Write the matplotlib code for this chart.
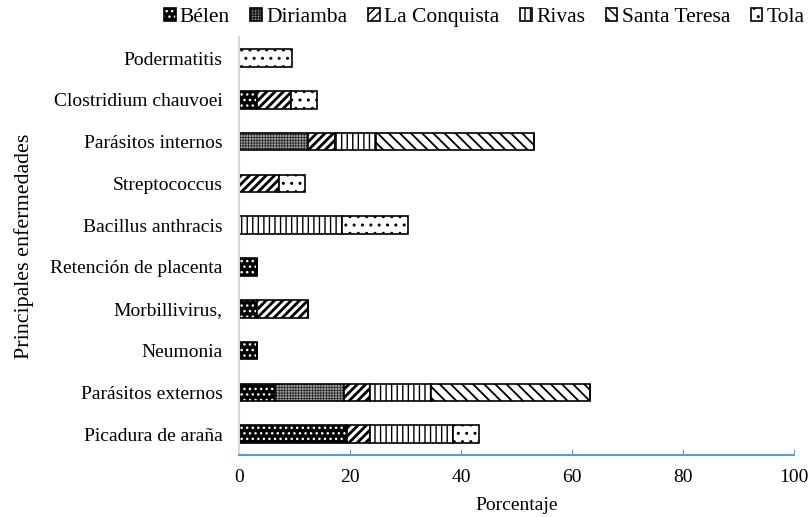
import matplotlib
matplotlib.use("Agg")
import matplotlib.pyplot as plt
from matplotlib.patches import Patch
import numpy as np

categories = ["Picadura de araña", "Parásitos externos", "Neumonia", "Morbillivirus,",
              "Retención de placenta", "Bacillus anthracis", "Streptococcus",
              "Parásitos internos", "Clostridium chauvoei", "Podermatitis"]
series = ["Bélen", "Diriamba", "La Conquista", "Rivas", "Santa Teresa", "Tola"]

belen = [19.4, 6.5, 3.2, 3.2, 3.2, 0, 0, 0, 3.2, 0]
diriamba = [0, 12.4, 0, 0, 0, 0, 0, 12.4, 0, 0]
la_conquista = [4.2, 4.6, 0, 9.2, 0, 0, 7.1, 4.8, 6.1, 0]
rivas = [14.9, 11.0, 0, 0, 0, 18.5, 0, 7.4, 0, 0]
santa_teresa = [0, 28.7, 0, 0, 0, 0, 0, 28.6, 0, 0]
tola = [4.7, 0, 0, 0, 0, 11.9, 4.8, 0, 4.8, 9.5]

values = [belen, diriamba, la_conquista, rivas, santa_teresa, tola]
# (facecolor, hatch colour, hatch, hatch linewidth)
styles = [
    ("black", "white", "...", 1.0),
    ("#a0a0a0", "#202020", "++++++", 0.5),
    ("white", "black", "////", 2.0),
    ("white", "black", "|||", 1.0),
    ("white", "black", "\\\\\\", 1.3),
    ("white", "black", "..", 1.0),
]

plt.rcParams["font.family"] = ["Liberation Serif", "DejaVu Serif"]
plt.rcParams["font.size"] = 14

fig, ax = plt.subplots(figsize=(8.11, 5.17), dpi=100)
fig.subplots_adjust(left=0.295, right=0.979, top=0.928, bottom=0.12)

y = np.arange(len(categories))
left = np.zeros(len(categories))
for name, vals, (fc, hc, hatch, hlw) in zip(series, values, styles):
    vals = np.array(vals)
    with plt.rc_context({"hatch.linewidth": hlw}):
        ax.barh(y, vals, left=left, height=0.42, color=fc, edgecolor=hc,
                hatch=hatch, linewidth=0)
    ax.barh(y, vals, left=left, height=0.42, fill=False, edgecolor="black",
            linewidth=1.2)
    left += vals

ax.set_xlim(0, 100)
ax.set_ylim(-0.5, len(categories) - 0.5)
ax.set_yticks(y)
ax.set_yticklabels(categories)
ax.set_xticks([0, 20, 40, 60, 80, 100])
ax.tick_params(axis="y", length=0, pad=12)
ax.tick_params(axis="x", direction="in", length=4, color="#5B9BD5", pad=10)

for s in ["top", "right"]:
    ax.spines[s].set_visible(False)
ax.spines["left"].set_color("#D9D9D9")
ax.spines["left"].set_linewidth(1.5)
ax.spines["bottom"].set_color("#5B9BD5")
ax.spines["bottom"].set_linewidth(1.5)

ax.set_xlabel("Porcentaje", labelpad=8)
ax.set_ylabel("Principales enfermedades", fontsize=15.8)
ax.yaxis.set_label_coords(-0.37, 0.5)

# legend keys: hatched fill with a black border on top
leg_handles = []
for fc, hc, hatch, hlw in styles:
    with plt.rc_context({"hatch.linewidth": hlw}):
        fill = Patch(facecolor=fc, edgecolor=hc, hatch=hatch, linewidth=0)
    border = Patch(fill=False, edgecolor="black", linewidth=1.2)
    leg_handles.append((fill, border))
fig.legend(leg_handles, series, loc="upper center", bbox_to_anchor=(0.597, 1.022), ncol=6,
           frameon=False, fontsize=15.5, handlelength=0.55, handleheight=0.55,
           handletextpad=0.2, columnspacing=0.95)

fig.savefig("out.png", dpi=100)
